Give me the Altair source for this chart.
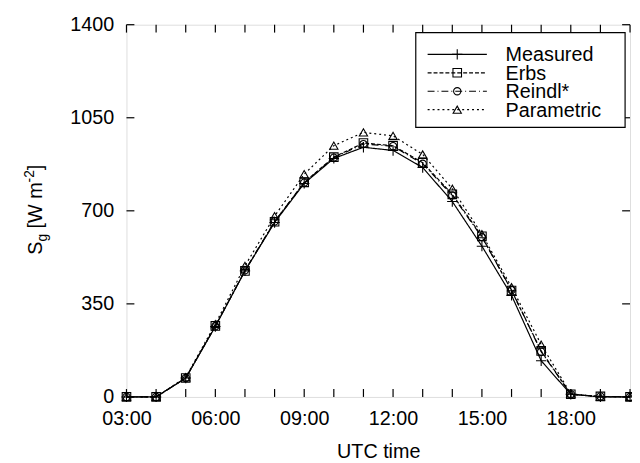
import altair as alt
import pandas as pd

hours = list(range(3, 21))
measured = [0, 0, 71, 265, 474, 656, 803, 897, 939, 927, 863, 735, 567, 382, 136, 10, 0, 0]
erbs = [0, 0, 71, 267, 474, 659, 807, 902, 955, 945, 881, 762, 604, 400, 173, 10, 2, 0]
reindl = [0, 0, 71, 266, 476, 660, 806, 900, 951, 943, 877, 758, 601, 402, 170, 10, 2, 0]
parametric = [0, 0, 74, 274, 493, 680, 838, 945, 995, 982, 912, 783, 612, 413, 197, 12, 0, 0]

series_names = ["Measured", "Erbs", "Reindl*", "Parametric"]
series_values = [measured, erbs, reindl, parametric]
y_ticks = [0, 350, 700, 1050, 1400]

FONT = "Liberation Sans"
W, H = 510, 377

rows = []
for name, vals in zip(series_names, series_values):
    for h, v in zip(hours, vals):
        rows.append({"series": name, "hour": h, "value": v})
df = pd.DataFrame(rows)

styles = {
    "Measured": dict(dash=[1, 0], shape="M-1,0L1,0M0,-1L0,1", size=110),
    "Erbs": dict(dash=[4, 2], shape="square", size=75),
    "Reindl*": dict(dash=[7, 3, 1, 3], shape="circle", size=55),
    "Parametric": dict(dash=[2, 3], shape="triangle-up", size=70),
}

xscale = alt.Scale(domain=[3, 20], nice=False)
yscale = alt.Scale(domain=[0, 1400], nice=False)

label_expr = ("datum.value % 3 == 0 ? ((datum.value < 10 ? '0' : '') + datum.value + ':00') : ''")

XAXIS = alt.Axis(values=hours, labelExpr=label_expr, ticks=False, tickSize=0,
                 domain=False, grid=False, labelPadding=12, labelFont=FONT,
                 labelFontSize=20, labelColor="black", labelFlush=False,
                 title="UTC time", titleFont=FONT, titleFontSize=20,
                 titleFontWeight="normal", titleColor="black",
                 titleY=61, titleBaseline="alphabetic")
YAXIS = alt.Axis(values=y_ticks, format="d", ticks=False, tickSize=0, domain=False, grid=False,
                 labelPadding=13, labelFont=FONT, labelFontSize=20,
                 labelColor="black", title=None)


def X():
    return alt.X("hour:Q", scale=xscale, axis=XAXIS, title="UTC time")


def Y():
    return alt.Y("value:Q", scale=yscale, axis=YAXIS, title=None)


layers = []

# tick marks (inward, mirrored)
xt = pd.DataFrame({"hour": hours})
yt = pd.DataFrame({"value": y_ticks})
tick_style = dict(color="black", strokeWidth=1.2)
layers.append(alt.Chart(xt).mark_rule(**tick_style).encode(
    x=X(), y=alt.value(H), y2=alt.value(H - 8)))
layers.append(alt.Chart(xt).mark_rule(**tick_style).encode(
    x=X(), y=alt.value(0), y2=alt.value(8)))
layers.append(alt.Chart(yt).mark_rule(**tick_style).encode(
    y=Y(), x=alt.value(0), x2=alt.value(8)))
layers.append(alt.Chart(yt).mark_rule(**tick_style).encode(
    y=Y(), x=alt.value(W), x2=alt.value(W - 8)))

for name in series_names:
    st = styles[name]
    sub = alt.Chart(df).transform_filter(alt.datum.series == name)
    layers.append(sub.mark_line(color="black", strokeWidth=1.2, strokeDash=st["dash"]).encode(
        x=X(), y=Y()))
    layers.append(sub.mark_point(shape=st["shape"], size=st["size"], filled=False,
                                 color="black", strokeWidth=1.1, opacity=1).encode(
        x=X(), y=Y()))

# legend
one = pd.DataFrame({"a": [0]})
layers.append(alt.Chart(one).mark_rect(fill="white", stroke="black", strokeWidth=1.2).encode(
    x=alt.value(293), x2=alt.value(505), y=alt.value(8), y2=alt.value(104)))
for i, name in enumerate(series_names):
    st = styles[name]
    yy = 30 + 18.7 * i
    layers.append(alt.Chart(one).mark_rule(color="black", strokeWidth=1.2, strokeDash=st["dash"]).encode(
        x=alt.value(305), x2=alt.value(365), y=alt.value(yy)))
    layers.append(alt.Chart(one).mark_point(shape=st["shape"], size=st["size"], filled=False,
                                            color="black", strokeWidth=1.1, opacity=1).encode(
        x=alt.value(335), y=alt.value(yy)))
    layers.append(alt.Chart(pd.DataFrame({"t": [name]})).mark_text(
        font=FONT, fontSize=20, align="left", baseline="middle", color="black").encode(
        text="t:N", x=alt.value(384), y=alt.value(yy + 1)))

# y-axis title with subscript / superscript
title_parts = [
    ("S", 20, -86, 233),
    ("g", 14, -81, 219.7),
    ("[W m", 20, -86, 206.3),
    ("-2", 14, -94, 159.7),
    ("]", 20, -86, 147.3),
]
for txt, fs, xx, yy in title_parts:
    layers.append(alt.Chart(pd.DataFrame({"t": [txt]})).mark_text(
        font=FONT, fontSize=fs, angle=270, align="left", baseline="alphabetic",
        color="black").encode(text="t:N", x=alt.value(xx), y=alt.value(yy)))

chart = alt.layer(*layers).properties(
    width=W, height=H,
    autosize=alt.AutoSizeParams(type="none"),
    padding={"left": 120, "top": 14, "right": 2, "bottom": 64},
).configure_view(stroke="black", strokeWidth=1.4).configure(background="white")

chart.save("out.html", embed_options={"renderer": "svg", "actions": False})
